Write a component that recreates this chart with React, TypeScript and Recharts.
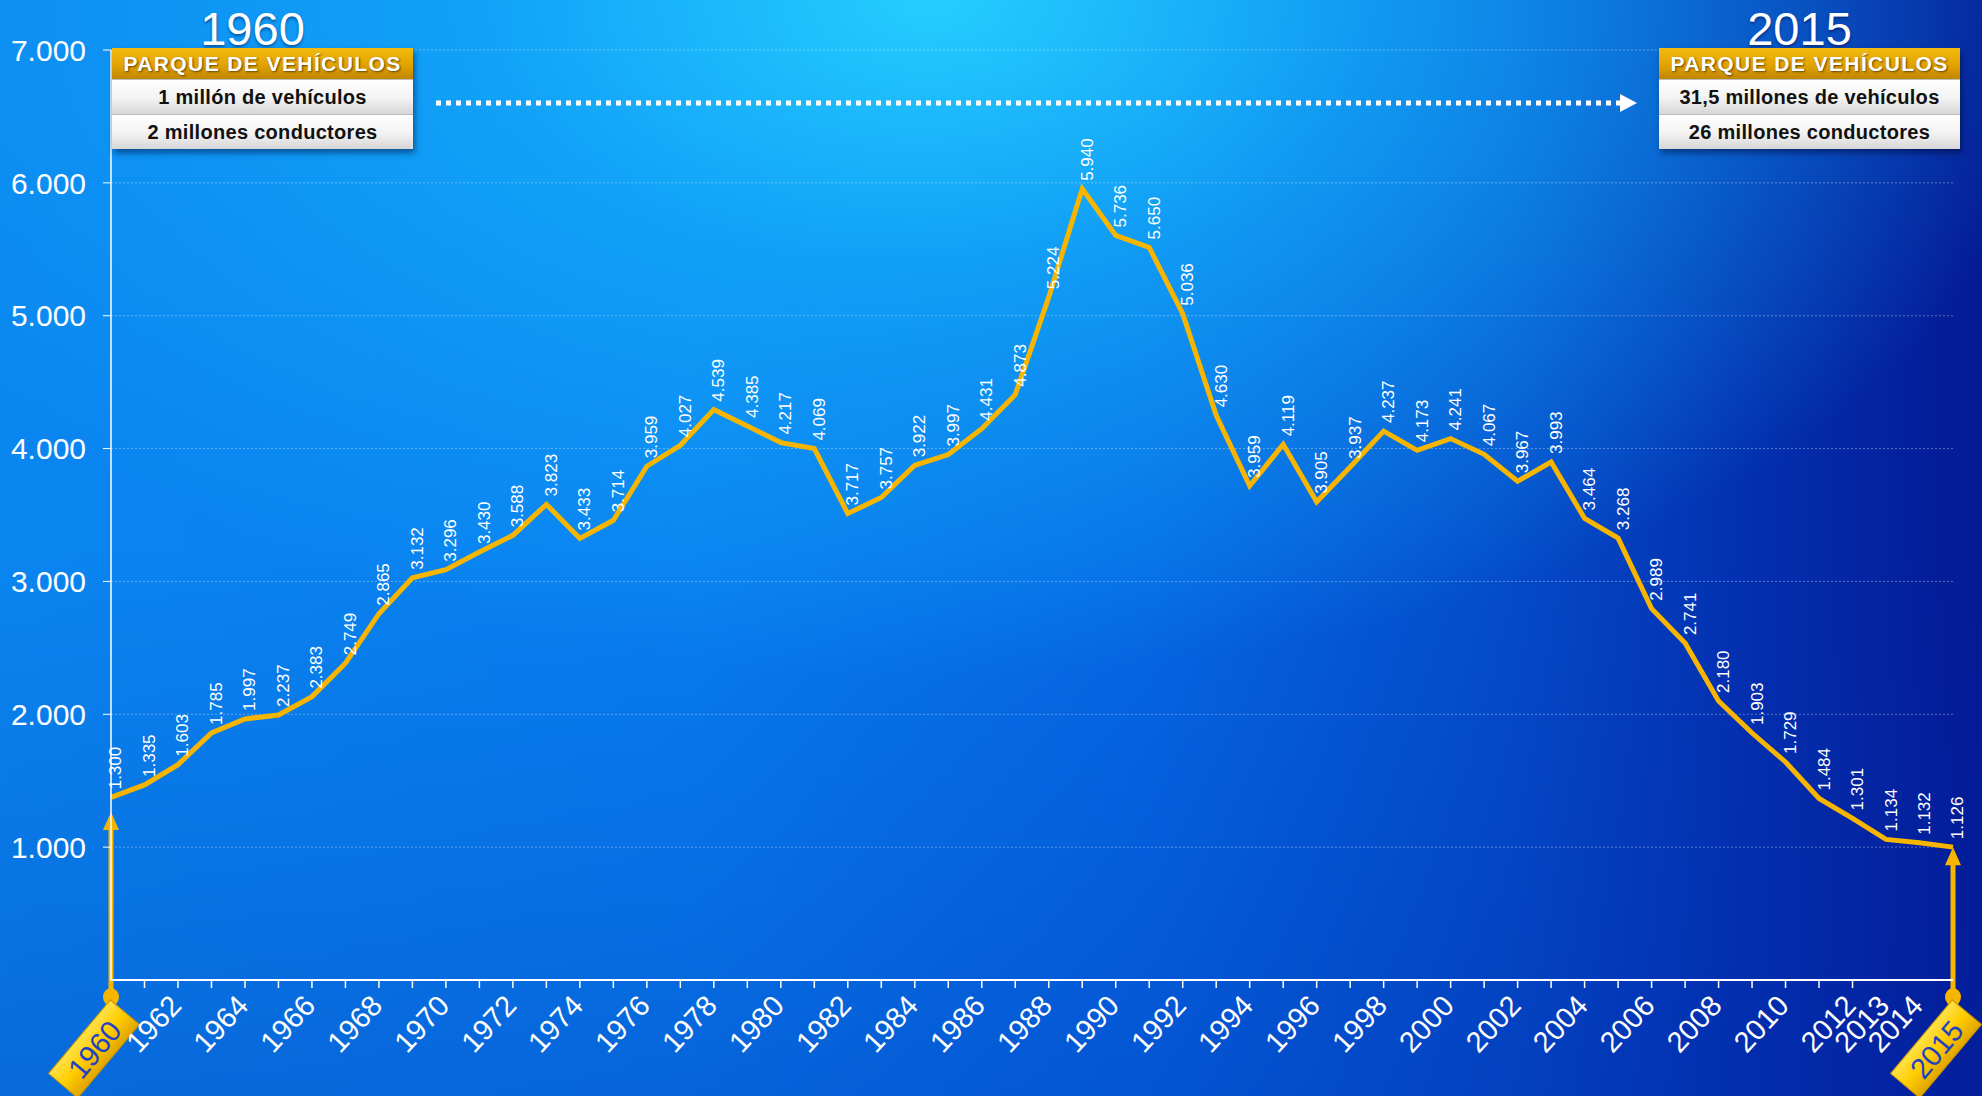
import { LineChart, Line, XAxis, YAxis, CartesianGrid, LabelList, ReferenceLine } from 'recharts'

// años de la serie
const years = [
  1960, 1961, 1962, 1963, 1964, 1965, 1966, 1967, 1968, 1969,
  1970, 1971, 1972, 1973, 1974, 1975, 1976, 1977, 1978, 1979,
  1980, 1981, 1982, 1983, 1984, 1985, 1986, 1987, 1988, 1989,
  1990, 1991, 1992, 1993, 1994, 1995, 1996, 1997, 1998, 1999,
  2000, 2001, 2002, 2003, 2004, 2005, 2006, 2007, 2008, 2009,
  2010, 2011, 2012, 2013, 2014, 2015
]

// altura a la que va dibujada la línea
const drawnLevel = [
  1375, 1468, 1621, 1860, 1965, 1995, 2133, 2384, 2757, 3028,
  3088, 3221, 3347, 3580, 3324, 3460, 3867, 4025, 4293, 4170,
  4045, 4000, 3511, 3632, 3874, 3955, 4150, 4406, 5140, 5955,
  5604, 5514, 5015, 4250, 3719, 4032, 3599, 3862, 4132, 3987,
  4075, 3957, 3754, 3899, 3474, 3326, 2795, 2536, 2100, 1859,
  1641, 1366, 1216, 1058, 1033, 1000
]

// fallecidos (etiquetas)
const fatalities = [
  1300, 1335, 1603, 1785, 1997, 2237, 2383, 2749, 2865, 3132,
  3296, 3430, 3588, 3823, 3433, 3714, 3959, 4027, 4539, 4385,
  4217, 4069, 3717, 3757, 3922, 3997, 4431, 4873, 5224, 5940,
  5736, 5650, 5036, 4630, 3959, 4119, 3905, 3937, 4237, 4173,
  4241, 4067, 3967, 3993, 3464, 3268, 2989, 2741, 2180, 1903,
  1729, 1484, 1301, 1134, 1132, 1126
]

const yTicks = [1000, 2000, 3000, 4000, 5000, 6000, 7000]

const labeledYears = [
  1962, 1964, 1966, 1968, 1970, 1972, 1974, 1976, 1978, 1980,
  1982, 1984, 1986, 1988, 1990, 1992, 1994, 1996, 1998, 2000,
  2002, 2004, 2006, 2008, 2010, 2012, 2013, 2014
]
const badgeYears = [1960, 2015]
const lastTickMark = 2012

const pins = [
  { year: 1960, top: 1265 },
  { year: 2015, top: 1000 }
]
const pinBottom = -128

const boxes = [
  { year: '1960', lines: ['1 millón de vehículos', '2 millones conductores'], left: 112 },
  { year: '2015', lines: ['31,5 millones de vehículos', '26 millones conductores'], left: 1659 }
]

const data = years.map((year, i) => ({ year, level: drawnLevel[i], label: fatalities[i] }))

const GOLD = '#f7b500'
const FONT = "'Liberation Sans', Arial, sans-serif"

const fmt = (v: number) => String(v).replace(/\B(?=(\d{3})+(?!\d))/g, '.')

const YearTick = (props: any) => {
  const { x, y, payload } = props
  const year = payload.value
  if (badgeYears.includes(year)) {
    return (
      <g transform={`translate(${x - 17}, ${y + 69}) rotate(-50)`}>
        <rect x={-48} y={-19} width={96} height={38} fill="url(#badgeFill)" stroke="#c99400" strokeWidth={1} />
        <text x={0} y={1} textAnchor="middle" dominantBaseline="central" fill="#1f3fc4" fontSize={29}>
          {year}
        </text>
      </g>
    )
  }
  const tx = x + 5
  const ty = y + 27
  return (
    <g>
      {year <= lastTickMark && <line x1={x} x2={x} y1={y} y2={y + 8} stroke="#fff" strokeWidth={1.5} />}
      {labeledYears.includes(year) && (
        <text x={tx} y={ty} transform={`rotate(-47 ${tx} ${ty})`} textAnchor="end" fill="#fff" fontSize={29}>
          {year}
        </text>
      )}
    </g>
  )
}

const DataLabel = (props: any) => {
  const { x, y, value } = props
  const lx = Number(x) + 5
  const ly = Number(y) - 8
  return (
    <text x={lx} y={ly} transform={`rotate(-90 ${lx} ${ly})`} fill="#fff" fontSize={17} dominantBaseline="central">
      {fmt(value)}
    </text>
  )
}

const Pin = (props: any) => {
  const { x1, y1, y2 } = props
  const top = Math.min(y1, y2)
  const bottom = Math.max(y1, y2)
  return (
    <g>
      <line x1={x1} x2={x1} y1={top + 14} y2={bottom} stroke={GOLD} strokeWidth={5} />
      <polygon points={`${x1},${top} ${x1 - 8},${top + 18} ${x1 + 8},${top + 18}`} fill={GOLD} />
      <ellipse cx={x1} cy={bottom} rx={8} ry={9} fill={GOLD} />
    </g>
  )
}

const InfoBox = ({ year, lines, left }: { year: string; lines: string[]; left: number }) => (
  <>
    <div
      style={{
        position: 'absolute', left: left - 10, top: 5, width: 301, textAlign: 'center',
        fontSize: 47, lineHeight: '47px', color: '#fff', textShadow: '0 2px 3px rgba(0,0,60,0.45)'
      }}
    >
      {year}
    </div>
    <div
      style={{
        position: 'absolute', left, top: 48, width: 301, boxShadow: '2px 4px 6px rgba(0,0,40,0.45)'
      }}
    >
      <div
        style={{
          height: 31, lineHeight: '32px', textAlign: 'center', fontWeight: 'bold', fontSize: 21,
          letterSpacing: 1.4, color: '#fff', textShadow: '1px 1px 2px rgba(80,50,0,0.85)',
          background: 'linear-gradient(180deg, #f3bb10 0%, #e2a300 55%, #c08600 100%)'
        }}
      >
        PARQUE DE VEHÍCULOS
      </div>
      {lines.map(t => (
        <div
          key={t}
          style={{
            height: 34, lineHeight: '34px', textAlign: 'center', fontWeight: 'bold', fontSize: 20,
            letterSpacing: 0.3, color: '#111', borderTop: '1px solid #bdbdbd',
            background: 'linear-gradient(180deg, #ffffff 0%, #f2f2f2 55%, #d6d6d6 100%)'
          }}
        >
          {t}
        </div>
      ))}
    </div>
  </>
)

export default function App() {
  return (
    <div
      style={{
        position: 'fixed', left: 0, top: 0, width: 1982, height: 1096, overflow: 'hidden', fontFamily: FONT,
        background:
          'radial-gradient(ellipse 58% 62% at 47% 0%, rgba(36,206,255,1) 0%, rgba(20,172,250,0.75) 40%, rgba(10,130,240,0) 100%),' +
          'linear-gradient(180deg, rgba(0,0,0,0) 50%, rgba(0,40,170,0.3) 100%),' +
          'linear-gradient(90deg, #0a86f0 0%, #087ef0 35%, #0568e4 58%, #044cca 76%, #0330b0 88%, #041a94 100%)'
      }}
    >
      <LineChart width={1982} height={1096} data={data} margin={{ top: 50, right: 29, bottom: 0, left: 0 }}>
        <defs>
          <linearGradient id="badgeFill" x1="0" y1="0" x2="0" y2="1">
            <stop offset="0%" stopColor="#ffe24a" />
            <stop offset="50%" stopColor="#ffcc00" />
            <stop offset="100%" stopColor="#e0a400" />
          </linearGradient>
        </defs>
        <CartesianGrid vertical={false} stroke="rgba(255,255,255,0.35)" strokeDasharray="2 2" />
        <XAxis
          dataKey="year"
          type="number"
          domain={[1960, 2015]}
          ticks={years}
          interval={0}
          tick={<YearTick />}
          tickLine={false}
          tickSize={0}
          tickMargin={0}
          height={116}
          axisLine={{ stroke: '#fff', strokeWidth: 2 }}
        />
        <YAxis
          domain={[0, 7000]}
          ticks={yTicks}
          tickFormatter={fmt}
          width={111}
          tick={{ fill: '#fff', fontSize: 30 }}
          axisLine={{ stroke: '#fff', strokeWidth: 1.5 }}
          tickLine={{ stroke: '#fff' }}
          tickSize={8}
          tickMargin={17}
        />
        <Line
          type="linear"
          dataKey="level"
          stroke={GOLD}
          strokeWidth={5}
          dot={false}
          activeDot={false}
          isAnimationActive={false}
        >
          <LabelList dataKey="label" content={<DataLabel />} />
        </Line>
        {pins.map(p => (
          <ReferenceLine
            key={p.year}
            segment={[{ x: p.year, y: p.top }, { x: p.year, y: pinBottom }]}
            ifOverflow="visible"
            shape={<Pin />}
          />
        ))}
      </LineChart>
      {boxes.map(b => (
        <InfoBox key={b.year} {...b} />
      ))}
      <svg style={{ position: 'absolute', left: 0, top: 0 }} width={1982} height={200}>
        <line x1={436} x2={1620} y1={103} y2={103} stroke="#fff" strokeWidth={5} strokeDasharray="5 5" />
        <polygon points="1620,94 1637,103 1620,112" fill="#fff" />
      </svg>
    </div>
  )
}
